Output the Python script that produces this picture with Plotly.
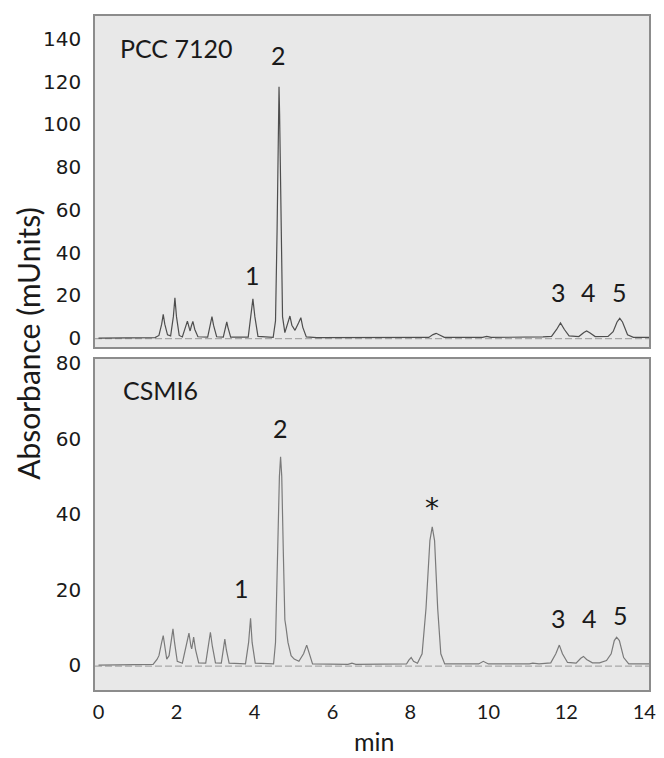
import plotly.graph_objects as go
from plotly.subplots import make_subplots

# ---- data ----
# PCC 7120 chromatogram (time in min, absorbance in mUnits)
pcc_time = [0, 1.45, 1.55, 1.62, 1.66, 1.70, 1.77, 1.85, 1.92, 1.96, 2.00, 2.07, 2.15, 2.23, 2.28,
            2.33, 2.35, 2.38, 2.42, 2.47, 2.55, 2.80, 2.87, 2.91, 2.95, 3.03, 3.20, 3.26, 3.29, 3.32,
            3.39, 3.84, 3.91, 3.96, 4.01, 4.09, 4.48, 4.54, 4.58, 4.615, 4.63, 4.645, 4.68, 4.72,
            4.78, 4.86, 4.91, 4.96, 5.04, 5.13, 5.19, 5.24, 5.33, 5.60, 6.30, 6.50, 7.50, 8.47,
            8.58, 8.66, 8.75, 8.87, 9.85, 9.96, 10.07, 11.15, 11.25, 11.40, 11.62, 11.75, 11.85,
            11.95, 12.07, 12.32, 12.45, 12.52, 12.60, 12.74, 13.07, 13.20, 13.30, 13.37, 13.44,
            13.57, 13.72, 14.12]
pcc_abs = [0, 0.2, 1.2, 6.5, 11.1, 6.5, 1.5, 1.0, 10, 18.8, 10, 1.2, 0.5, 5.0, 7.9,
           4.5, 3.3, 5.5, 7.8, 4.0, 0.6, 0.4, 6, 10.0, 6, 0.6, 0.4, 5, 7.5, 5,
           0.4, 0.4, 10, 18.3, 10, 0.8, 0.3, 8, 50, 105, 117.6, 105, 50, 10,
           2.5, 7, 10.3, 6, 3.6, 7, 9.5, 5, 0.5, 0.2, 0.3, 0.2, 0.3, 0.3,
           1.6, 2.2, 1.4, 0.3, 0.3, 0.8, 0.3, 0.3, 0.5, 0.5, 0.8, 4, 7.1,
           4, 1, 0.7, 2.6, 3.3, 2.5, 0.7, 0.8, 3, 7.5, 9.2, 7.5,
           1.5, 0.3, 0.3]

# CSMI6 chromatogram
csm_time = [0, 1.40, 1.50, 1.55, 1.62, 1.66, 1.70, 1.75, 1.81, 1.87, 1.91, 1.95, 2.02, 2.15, 2.25,
            2.32, 2.37, 2.39, 2.41, 2.44, 2.49, 2.57, 2.75, 2.82, 2.87, 2.92, 3.00, 3.15, 3.20, 3.24,
            3.28, 3.35, 3.77, 3.85, 3.90, 3.94, 4.02, 4.49, 4.54, 4.59, 4.64, 4.67, 4.70, 4.74, 4.78,
            4.81, 4.86, 4.94, 5.02, 5.14, 5.26, 5.34, 5.40, 5.49, 6.40, 6.50, 6.60, 7.00, 7.05, 7.10,
            7.90, 7.96, 8.02, 8.08, 8.18, 8.30, 8.40, 8.50, 8.56, 8.62, 8.70, 8.78, 8.88, 9.75, 9.87,
            10.00, 11.05, 11.14, 11.30, 11.60, 11.73, 11.82, 11.90, 12.03, 12.25, 12.37, 12.44, 12.52,
            12.67, 12.85, 12.93, 13.03, 13.15, 13.23, 13.29, 13.36, 13.47, 13.60, 14.12]
csm_abs = [0, 0.2, 1.5, 2.5, 6, 7.8, 5, 1.6, 2.5, 7, 9.6, 6, 1, 0.5, 5,
           8.5, 5, 4.3, 5.5, 7.4, 4, 0.6, 0.5, 5, 8.7, 5, 0.6, 0.5, 4, 6.9,
           4, 0.5, 0.3, 6, 12.4, 6, 0.5, 0.3, 6, 30, 50, 55.2, 50, 30, 12,
           10, 6, 2.5, 1.6, 1.0, 3, 5.3, 3, 0.3, 0.2, 0.5, 0.2, 0.2, 0.3, 0.2,
           0.3, 1.3, 2.0, 1.0, 0.5, 3, 15, 33, 36.6, 33, 15, 3, 0.3, 0.3, 1.0,
           0.3, 0.3, 0.5, 0.3, 0.6, 3, 5.3, 3, 0.7, 0.5, 1.8, 2.3, 1.5,
           0.6, 0.6, 0.9, 1.2, 3, 6.5, 7.4, 6.5, 2, 0.3, 0.3]

baseline_time = [-0.09, 14.12]
baseline_abs = [-0.3, -0.3]

# peak labels: text, time, absorbance
pcc_labels = ["PCC 7120", "2", "1", "3", "4", "5"]
pcc_label_t = [2.00, 4.62, 3.95, 11.80, 12.58, 13.36]
pcc_label_y = [135.8, 132.5, 29.5, 21.5, 21.5, 21.5]

csm_labels = ["CSMI6", "2", "1", "3", "4", "5"]
csm_label_t = [1.60, 4.66, 3.66, 11.80, 12.59, 13.40]
csm_label_y = [72.8, 62.9, 20.4, 12.4, 12.4, 13.2]

star_label = "*"
star_t = 8.55
star_y = 41.5

top_ticks = [0, 20, 40, 60, 80, 100, 120, 140]
bottom_ticks = [0, 20, 40, 60, 80]
x_ticks = [0, 2, 4, 6, 8, 10, 12, 14]

# ---- figure ----
fig = make_subplots(rows=2, cols=1, shared_xaxes=True)

fig.add_trace(go.Scatter(x=baseline_time, y=baseline_abs, mode="lines",
                         line=dict(color="#a8a8a8", width=1.3, dash="7px,3px"),
                         showlegend=False, hoverinfo="skip"), row=1, col=1)
fig.add_trace(go.Scatter(x=pcc_time, y=pcc_abs, mode="lines",
                         line=dict(color="#4e4e4e", width=1.2),
                         showlegend=False, name="PCC 7120"), row=1, col=1)
fig.add_trace(go.Scatter(x=baseline_time, y=baseline_abs, mode="lines",
                         line=dict(color="#a8a8a8", width=1.3, dash="7px,3px"),
                         showlegend=False, hoverinfo="skip"), row=2, col=1)
fig.add_trace(go.Scatter(x=csm_time, y=csm_abs, mode="lines",
                         line=dict(color="#7a7a7a", width=1.2),
                         showlegend=False, name="CSMI6"), row=2, col=1)

label_font = dict(family="Lato", size=25, color="#1a1a1a")
for txt, t, v in zip(pcc_labels, pcc_label_t, pcc_label_y):
    fig.add_annotation(x=t, y=v, xref="x", yref="y", text=txt, showarrow=False,
                       font=label_font, xanchor="center", yanchor="middle")
for txt, t, v in zip(csm_labels, csm_label_t, csm_label_y):
    fig.add_annotation(x=t, y=v, xref="x2", yref="y2", text=txt, showarrow=False,
                       font=label_font, xanchor="center", yanchor="middle")
fig.add_annotation(x=star_t, y=star_y, xref="x2", yref="y2", text=star_label, showarrow=False,
                   font=dict(family="DejaVu Sans", size=28, color="#1a1a1a"),
                   xanchor="center", yanchor="middle")

# axis titles as annotations
fig.add_annotation(x=-0.121, y=0.515, xref="paper", yref="paper", text="Absorbance (mUnits)",
                   textangle=-90, showarrow=False, xanchor="center", yanchor="middle",
                   font=dict(family="Lato", size=30, color="#1a1a1a"))
fig.add_annotation(x=0.505, y=-0.0754, xref="paper", yref="paper", text="min",
                   showarrow=False, xanchor="center", yanchor="middle",
                   font=dict(family="Lato", size=25, color="#1a1a1a"))

axis_line = dict(showline=True, mirror=True, linecolor="#8c8c8c", linewidth=1.6,
                 showgrid=False, zeroline=False)

fig.update_xaxes(range=[-0.09, 14.12], tickvals=x_ticks, **axis_line)
fig.update_xaxes(showticklabels=False, row=1, col=1)
fig.update_xaxes(showticklabels=True, ticks="outside", ticklen=3, tickcolor="rgba(0,0,0,0)",
                 tickfont=dict(family="Lato", size=20, color="#1a1a1a"), row=2, col=1)

fig.update_layout(
    width=664, height=758,
    margin=dict(l=95, r=8, t=14, b=68),
    paper_bgcolor="white",
    plot_bgcolor="#e8e8e8",
    showlegend=False,
    yaxis=dict(domain=[0.5089, 1.0], range=[-4.2, 150.7], tickvals=top_ticks,
               ticks="outside", ticklen=8, tickcolor="rgba(0,0,0,0)",
               tickfont=dict(family="DejaVu Sans", size=20, color="#1a1a1a"), **axis_line),
    yaxis2=dict(domain=[0.0, 0.4911], range=[-6.6, 81.1], tickvals=bottom_ticks,
                ticks="outside", ticklen=8, tickcolor="rgba(0,0,0,0)",
                tickfont=dict(family="DejaVu Sans", size=20, color="#1a1a1a"), **axis_line),
)

fig.write_html("out.html")
